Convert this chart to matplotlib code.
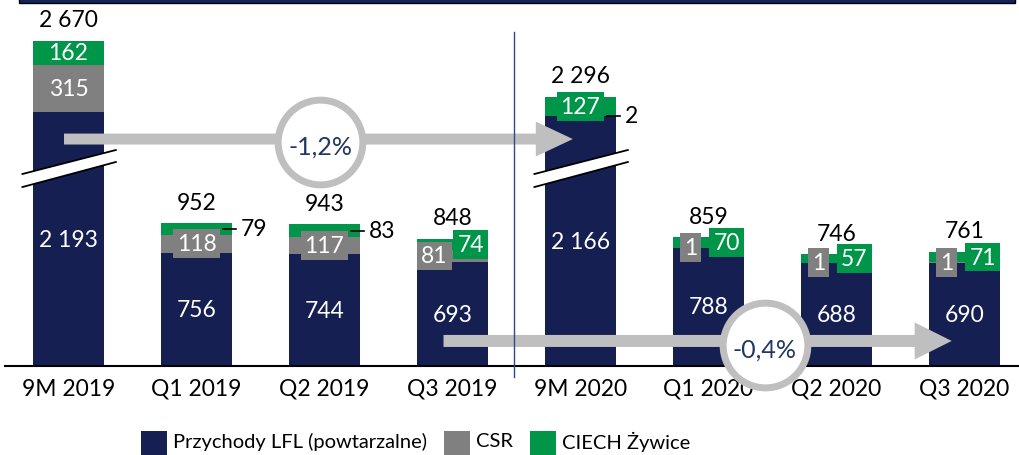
import numpy as np
import matplotlib
matplotlib.use('Agg')
import matplotlib.pyplot as plt
from matplotlib import font_manager
from matplotlib.patches import Rectangle, Polygon, FancyArrow

plt.rcParams['font.family'] = ['Lato', 'DejaVu Sans']

# dane
periods = ['9M 2019', 'Q1 2019', 'Q2 2019', 'Q3 2019', '9M 2020', 'Q1 2020', 'Q2 2020', 'Q3 2020']
lfl = [2193, 756, 744, 693, 2166, 788, 688, 690]
csr = [315, 118, 117, 81, 2, 1, 1, 1]
zywice = [162, 79, 83, 74, 127, 70, 57, 71]
totals = ['2 670', '952', '943', '848', '2 296', '859', '746', '761']
lfl_labels = ['2 193', '756', '744', '693', '2 166', '788', '688', '690']
changes = ['-1,2%', '-0,4%']
legend_names = ['Przychody LFL (powtarzalne)', 'CSR', 'CIECH Żywice']

# kolory
NAVY = '#161F52'
GREY = '#808080'
GREEN = '#00964A'
ARROW = '#BFBFBF'
PCT = '#203864'

# os. przerwana dla 9M
BREAK = 500
broken = [True, False, False, False, True, False, False, False]
csr_mode = ['in', 'box', 'box', 'left', 'out', 'left', 'left', 'left']
zyw_mode = ['in', 'out', 'out', 'right', 'box', 'right', 'right', 'right']

W, H = 1019, 456
fig = plt.figure(figsize=(W / 100, H / 100), dpi=100)
ax = fig.add_axes([5 / W, 89 / H, 1014 / W, 367 / H])
ax.set_xlim(-0.496, 7.426)
ax.set_ylim(0, 367 / 0.15)

x = np.arange(len(periods))
lfl_disp = np.array([v - BREAK if b else v for v, b in zip(lfl, broken)], dtype=float)
csr_arr = np.array(csr, dtype=float)
zyw_arr = np.array(zywice, dtype=float)
bw = 71 / 128

ax.bar(x, lfl_disp, bw, color=NAVY, zorder=2)
ax.bar(x, csr_arr, bw, bottom=lfl_disp, color=GREY, zorder=2)
ax.bar(x, zyw_arr, bw, bottom=lfl_disp + csr_arr, color=GREEN, zorder=2)

FS = 16.5
tops = lfl_disp + csr_arr + zyw_arr
for i in range(len(x)):
    # suma nad słupkiem
    ax.annotate(totals[i], (x[i], tops[i]), xytext=(0, 15), textcoords='offset points',
                ha='center', va='center', fontsize=FS, color='black', zorder=7)
    # LFL w środku
    ax.text(x[i], lfl_disp[i] / 2, lfl_labels[i], ha='center', va='center',
            fontsize=FS, color='white', zorder=3)

    for val, bottom, mode, col in [(csr_arr[i], lfl_disp[i], csr_mode[i], GREY),
                                   (zyw_arr[i], lfl_disp[i] + csr_arr[i], zyw_mode[i], GREEN)]:
        ymid = bottom + val / 2
        lab = '%d' % val
        if mode == 'in':
            ax.text(x[i], ymid, lab, ha='center', va='center', fontsize=FS, color='white', zorder=3)
        elif mode == 'out':
            ax.plot([x[i] + 0.207, x[i] + 0.309], [ymid, ymid], color='black', lw=1.2, zorder=4)
            ax.text(x[i] + 0.348, ymid, lab, ha='left', va='center', fontsize=FS, color='black', zorder=4)
        else:
            dx = {'box': 0, 'left': -13, 'right': 13}[mode]
            ax.annotate(lab, (x[i], ymid), xytext=(dx, 0), textcoords='offset points',
                        ha='center', va='center', fontsize=FS, color='white', zorder=4,
                        bbox=dict(boxstyle='square,pad=0.17', fc=col, ec='none'))

# przerwy osi na słupkach 9M
for i in range(len(x)):
    if not broken[i]:
        continue
    x0, x1 = x[i] - 0.36, x[i] + 0.37
    ax.add_patch(Polygon([(x0, 1193), (x1, 1360), (x1, 1440), (x0, 1280)],
                         closed=True, fc='white', ec='none', zorder=3, clip_on=False))
    ax.plot([x0, x1], [1280, 1440], color='black', lw=1.3, zorder=3, clip_on=False)
    ax.plot([x0, x1], [1193, 1360], color='black', lw=1.3, zorder=3, clip_on=False)

# linia podziału
ax.plot([3.48, 3.48], [-75, 2230], color='#2F4A8C', lw=1, zorder=5, clip_on=False)

# strzałki z kółkami
for (xs, xe, y, w, hw), (cx, cy), txt in zip([(-0.035, 3.94, 1513, 73, 233), (2.93, 6.90, 167, 80, 247)],
                                             [(1.965, 1493), (5.44, 140)], changes):
    ax.add_patch(FancyArrow(xs, y, xe - xs, 0, width=w, head_width=hw, head_length=0.289,
                            length_includes_head=True, color=ARROW, lw=0, zorder=4, clip_on=False))
    ax.plot([cx], [cy], 'o', ms=61, mfc='white', mec=ARROW, mew=5, zorder=6, clip_on=False)
    ax.text(cx, cy - 25, txt, ha='center', va='center', fontsize=18, color=PCT, zorder=7)

for s in ['top', 'right', 'left']:
    ax.spines[s].set_visible(False)
ax.spines['bottom'].set_linewidth(1.5)
ax.spines['bottom'].set_zorder(3)
ax.set_yticks([])
ax.set_xticks(x)
ax.set_xticklabels(periods, fontsize=FS)
ax.tick_params(axis='x', length=0, pad=8.5)

# pasek na górze
fig.add_artist(Rectangle((19 / W, 452 / H), 996 / W, 8 / H, transform=fig.transFigure,
                         fc='#14245A', ec='black', lw=1))

# legenda - węższa czcionka jeśli jest dostępna
names = {f.name for f in font_manager.fontManager.ttflist}
leg_font = ['Liberation Sans Narrow', 'DejaVu Sans'] if 'Liberation Sans Narrow' in names else ['Lato', 'DejaVu Sans']
leg_fs = 16 if 'Liberation Sans Narrow' in names else 14.5

renderer = fig.canvas.get_renderer()
items = []
total_w = 0
for col, name in zip([NAVY, GREY, GREEN], legend_names):
    t = fig.text(0, 14 / H, name, ha='left', va='center', fontsize=leg_fs, color='black', family=leg_font)
    tw = t.get_window_extent(renderer).width
    items.append((col, t, tw))
    total_w += 26 + 6 + tw
total_w += 17 * (len(items) - 1)
lx = 416 - total_w / 2
for col, t, tw in items:
    fig.add_artist(Rectangle((lx / W, -4 / H), 26 / W, 28 / H, transform=fig.transFigure, fc=col, ec='none'))
    t.set_x((lx + 32) / W)
    lx += 32 + tw + 17

plt.savefig('out.png', dpi=100)
